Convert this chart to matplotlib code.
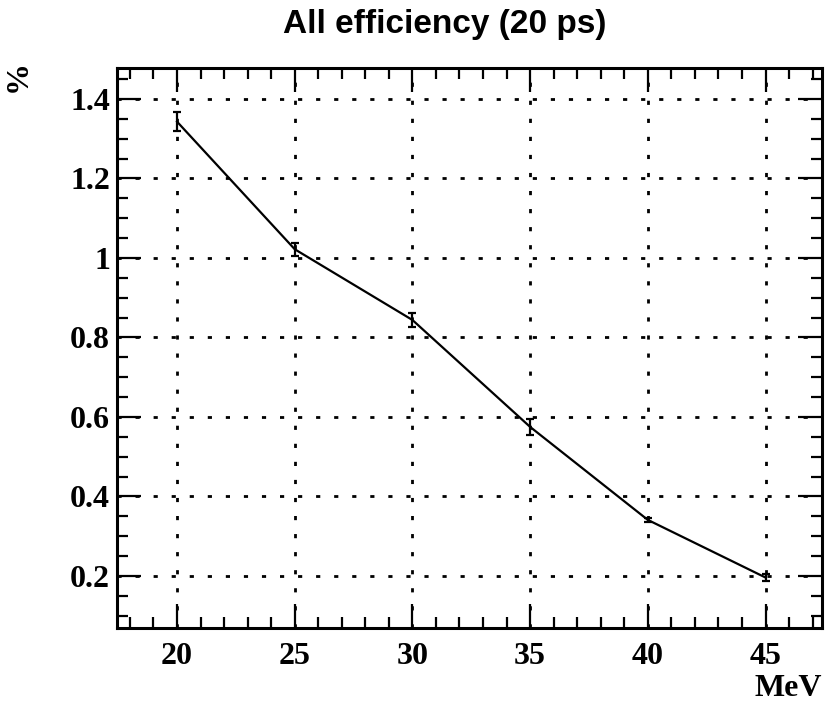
import numpy as np
import matplotlib.pyplot as plt
from matplotlib.ticker import MultipleLocator

# values
energy_mev = [20, 25, 30, 35, 40, 45]
efficiency = [1.343, 1.022, 0.844, 0.575, 0.341, 0.196]
eff_err = [0.024, 0.016, 0.017, 0.021, 0.005, 0.009]

plt.rcParams['font.family'] = ['Liberation Serif', 'DejaVu Serif']

fig = plt.figure(figsize=(8.26, 7.04), dpi=100)
ax = fig.add_axes([117/826, 1 - 628/704, (822 - 117)/826, (628 - 68)/704])

ax.errorbar(energy_mev, efficiency, yerr=eff_err, color='black', lw=1.6,
            elinewidth=1.6, capsize=3, capthick=1.6)

ax.set_xlim(17.45, 47.4)
ax.set_ylim(0.069, 1.478)

ax.xaxis.set_major_locator(MultipleLocator(5))
ax.xaxis.set_minor_locator(MultipleLocator(1))
ax.yaxis.set_major_locator(MultipleLocator(0.2))
ax.yaxis.set_minor_locator(MultipleLocator(0.05))
ax.set_yticks([0.2, 0.4, 0.6, 0.8, 1.0, 1.2, 1.4])
ax.set_yticklabels(['0.2', '0.4', '0.6', '0.8', '1', '1.2', '1.4'])

ax.tick_params(which='both', direction='in', top=True, right=True, width=1.6,
               labelsize=23)
ax.tick_params(axis='y', pad=5)
ax.tick_params(axis='x', pad=10)
ax.tick_params(which='major', length=17)
ax.tick_params(which='minor', length=8)
for lab in ax.get_xticklabels() + ax.get_yticklabels():
    lab.set_fontweight('bold')

for sp in ax.spines.values():
    sp.set_linewidth(2.2)

ax.grid(True, which='major', color='black', linestyle=(0, (1.5, 5)), lw=2)

fig.text(822/826, 1 - 688/704, 'MeV', ha='right', va='center',
         fontsize=23, fontweight='bold')
fig.text(18/826, 1 - 76/704, '%', ha='center', va='center', rotation=90,
         fontsize=23, fontweight='bold')
fig.text(445/826, 1 - 25/704, 'All efficiency (20 ps)',
         ha='center', va='center', fontsize=24, fontweight='bold',
         family='Liberation Sans')

fig.savefig('out.png', dpi=100)
